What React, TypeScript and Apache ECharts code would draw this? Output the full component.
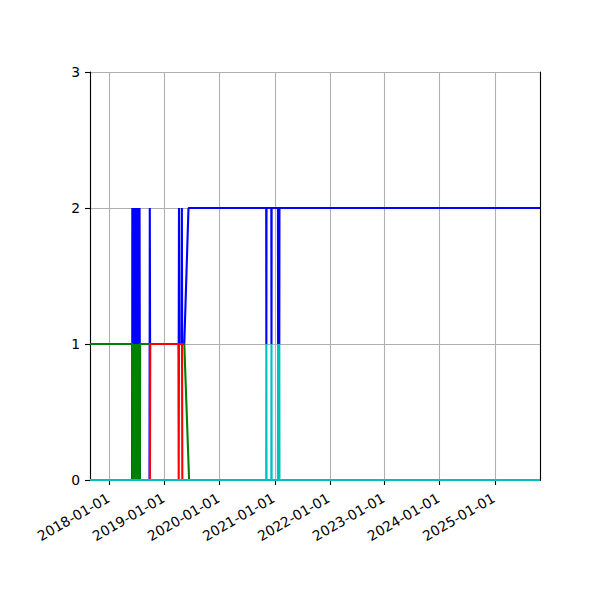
import React, { useEffect, useRef } from 'react'
import * as echarts from 'echarts'

// visible window of the time axis
const xStart = '2017-08-23'
const xEnd = '2025-10-28'

const yTicks = [0, 1, 2, 3]

const blueData: [string, number][] = [
  ['2017-08-23', 0], ['2018-05-30', 0],
  ['2018-05-31', 2], ['2018-06-03', 0], ['2018-06-06', 2], ['2018-06-09', 0],
  ['2018-06-12', 2], ['2018-06-15', 0], ['2018-06-18', 2], ['2018-06-21', 0],
  ['2018-06-24', 2], ['2018-06-27', 0], ['2018-06-30', 2], ['2018-07-03', 0],
  ['2018-07-06', 2], ['2018-07-09', 0], ['2018-07-12', 2], ['2018-07-15', 0],
  ['2018-07-18', 2], ['2018-07-21', 0],
  ['2018-09-22', 0], ['2018-09-24', 2], ['2018-09-26', 1],
  ['2019-04-04', 1], ['2019-04-06', 2], ['2019-04-08', 1],
  ['2019-04-23', 1], ['2019-04-25', 2], ['2019-04-27', 1],
  ['2019-05-11', 1], ['2019-06-08', 2],
  ['2020-11-05', 2], ['2020-11-06', 1], ['2020-11-07', 2],
  ['2020-12-09', 2], ['2020-12-10', 1], ['2020-12-11', 2],
  ['2021-01-22', 2], ['2021-01-23', 1], ['2021-01-24', 2],
  ['2021-01-30', 2], ['2021-01-31', 1], ['2021-02-01', 2],
  ['2025-10-28', 2],
]

const greenData: [string, number][] = [
  ['2017-08-23', 1], ['2018-06-01', 1],
  ['2018-06-02', 0], ['2018-06-05', 1], ['2018-06-08', 0], ['2018-06-11', 1],
  ['2018-06-14', 0], ['2018-06-17', 1], ['2018-06-20', 0], ['2018-06-23', 1],
  ['2018-06-26', 0], ['2018-06-29', 1], ['2018-07-02', 0], ['2018-07-05', 1],
  ['2018-07-08', 0], ['2018-07-11', 1], ['2018-07-14', 0], ['2018-07-17', 1],
  ['2018-07-20', 0], ['2018-07-22', 1],
  ['2019-05-11', 1], ['2019-06-12', 0],
  ['2025-10-28', 0],
]

const redData: [string, number][] = [
  ['2017-08-23', 0], ['2018-09-25', 0], ['2018-09-27', 1],
  ['2019-04-02', 1], ['2019-04-04', 0], ['2019-04-06', 1],
  ['2019-04-26', 1], ['2019-04-28', 0],
  ['2025-10-28', 0],
]

const cyanData: [string, number][] = [
  ['2017-08-23', 0],
  ['2020-11-05', 0], ['2020-11-06', 1], ['2020-11-07', 0],
  ['2020-12-09', 0], ['2020-12-10', 1], ['2020-12-11', 0],
  ['2021-01-22', 0], ['2021-01-23', 1], ['2021-01-24', 0],
  ['2021-01-30', 0], ['2021-01-31', 1], ['2021-02-01', 0],
  ['2025-10-28', 0],
]

const lines = [
  { name: 'blue', color: '#0000ff', data: blueData },
  { name: 'green', color: '#008000', data: greenData },
  { name: 'red', color: '#ff0000', data: redData },
  { name: 'cyan', color: '#00bfbf', data: cyanData },
]

const font = 'DejaVu Sans'
const DAY = 86400000

export default function App() {
  const ref = useRef<HTMLDivElement | null>(null)

  useEffect(() => {
    if (!ref.current) return
    const chart = echarts.init(ref.current, undefined, { renderer: 'svg' })

    const xMin = echarts.time.parse(xStart).getTime()
    const xMax = echarts.time.parse(xEnd).getTime()
    const spine = { show: true, lineStyle: { color: '#000', width: 1.1 } }

    const opt: echarts.EChartsOption = {
      animation: false,
      backgroundColor: '#ffffff',
      textStyle: { fontFamily: font },
      grid: { left: 90, right: 60, top: 72, bottom: 120 },
      xAxis: [
        {
          type: 'time',
          min: xMin,
          max: xMax,
          splitNumber: 8,
          minInterval: 365 * DAY,
          maxInterval: 366 * DAY,
          axisLine: spine,
          axisTick: { show: true, length: 5, lineStyle: { color: '#000', width: 1.1 } },
          splitLine: { show: true, lineStyle: { color: '#b0b0b0', width: 1.1 } },
          axisLabel: {
            rotate: 30,
            margin: 16,
            padding: [0, 1.5, 0, 0],
            color: '#000',
            fontSize: 13.9,
            fontFamily: font,
            showMinLabel: false,
            showMaxLabel: false,
            formatter: (v: number) => echarts.time.format(v, '{yyyy}-{MM}-{dd}', false),
          },
        },
        {
          // top spine
          type: 'time', position: 'top', min: xMin, max: xMax,
          axisLine: spine, axisTick: { show: false },
          axisLabel: { show: false }, splitLine: { show: false },
        },
      ],
      yAxis: [
        {
          type: 'value',
          min: yTicks[0],
          max: yTicks[yTicks.length - 1],
          interval: 1,
          axisLine: spine,
          axisTick: { show: true, length: 5, lineStyle: { color: '#000', width: 1.1 } },
          splitLine: { show: true, lineStyle: { color: '#b0b0b0', width: 1.1 } },
          axisLabel: { margin: 10, color: '#000', fontSize: 13.9, fontFamily: font },
        },
        {
          // right spine
          type: 'value', position: 'right',
          min: yTicks[0], max: yTicks[yTicks.length - 1], interval: 1,
          axisLine: spine, axisTick: { show: false },
          axisLabel: { show: false }, splitLine: { show: false },
        },
      ],
      series: lines.map(l => ({
        name: l.name,
        type: 'line',
        xAxisIndex: 0,
        yAxisIndex: 0,
        data: l.data,
        showSymbol: false,
        symbol: 'none',
        clip: true,
        lineStyle: { color: l.color, width: 2.1 },
        itemStyle: { color: l.color },
      })),
    }

    chart.setOption(opt)
    return () => { chart.dispose() }
  }, [])

  return (
    <div
      ref={ref}
      style={{ position: 'fixed', left: 0, top: 0, width: 600, height: 600, background: '#fff' }}
    />
  )
}
